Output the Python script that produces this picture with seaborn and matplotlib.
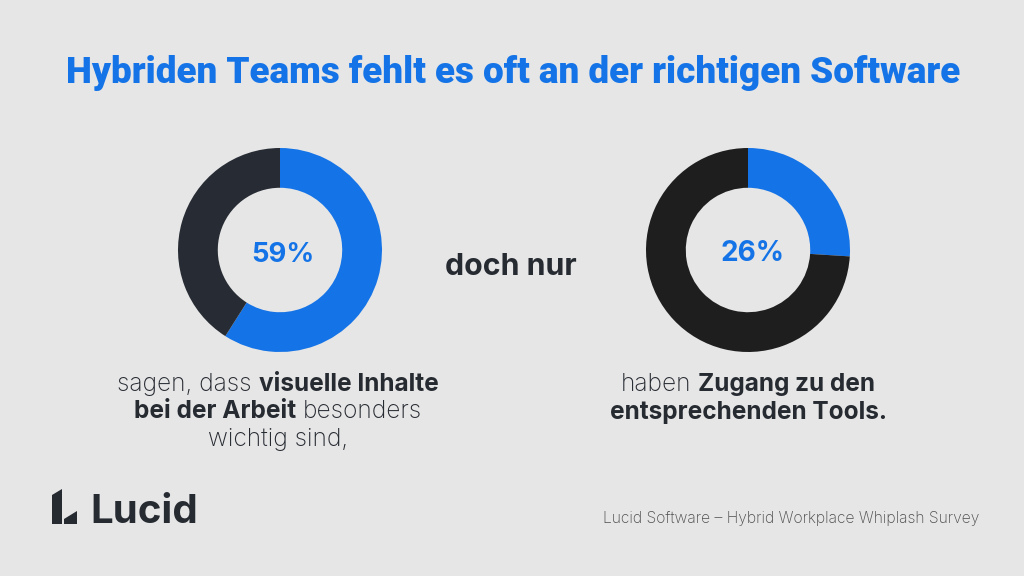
import matplotlib
matplotlib.use("Agg")
import matplotlib.pyplot as plt
from matplotlib.patches import Polygon
import seaborn as sns

# ---------------- data ----------------
title = "Hybriden Teams fehlt es oft an der richtigen Software"
left_values = [59, 41]
right_values = [26, 74]
left_label = "59%"
right_label = "26%"
middle_text = "doch nur"
left_desc = [
    [("sagen, dass", "light"), ("visuelle Inhalte", "bold")],
    [("bei der Arbeit", "bold"), ("besonders", "light")],
    [("wichtig sind,", "light")],
]
right_desc = [
    [("haben", "light"), ("Zugang zu den", "bold")],
    [("entsprechenden Tools.", "bold")],
]
brand = "Lucid"
source = "Lucid Software \u2013 Hybrid Workplace Whiplash Survey"

# ---------------- style ----------------
BLUE = "#1473E6"
DARK_L = "#272C34"
DARK_R = "#1E1E1E"
BG = "#E6E6E6"
TEXT = "#262A31"
GRAY = "#4D4D4D"

sns.set_theme(style="white", rc={"figure.facecolor": BG, "axes.facecolor": BG})
plt.rcParams["font.family"] = ["Inter", "DejaVu Sans"]

W, H = 1024, 576
fig = plt.figure(figsize=(W / 100, H / 100), dpi=100)
fig.patch.set_facecolor(BG)


def donut(cx, cy, r, values, colors):
    ax = fig.add_axes([(cx - r) / W, 1 - (cy + r) / H, 2 * r / W, 2 * r / H])
    ax.pie(values, colors=colors, startangle=90, counterclock=False, radius=1,
           wedgeprops=dict(width=0.39, linewidth=0))
    ax.set_xlim(-1, 1)
    ax.set_ylim(-1, 1)
    ax.set_aspect("auto")
    ax.patch.set_visible(False)
    ax.axis("off")
    return ax


donut(280, 250, 102, left_values, [BLUE, DARK_L])
donut(748, 250, 102, right_values, [BLUE, DARK_R])

# overlay axes in pixel coordinates (y down)
ov = fig.add_axes([0, 0, 1, 1])
ov.set_xlim(0, W)
ov.set_ylim(H, 0)
ov.patch.set_visible(False)
ov.axis("off")

fig.canvas.draw()
renderer = fig.canvas.get_renderer()


def width_of(t):
    return t.get_window_extent(renderer).width


def fit_text(x, y, s, target_w, ha="center", family=None, **kw):
    t = ov.text(x, y, s, ha=ha, va="baseline", fontsize=20, **kw)
    if family:
        t.set_family(family)
    w = width_of(t)
    t.set_fontsize(20 * target_w / w)
    return t


def rich_block(cx, y0, dy, lines, size, color):
    for i, segs in enumerate(lines):
        y = y0 + i * dy
        probe = ov.text(0, y, "a a", fontsize=size, fontweight="light")
        probe2 = ov.text(0, y, "aa", fontsize=size, fontweight="light")
        sp = width_of(probe) - width_of(probe2)
        probe.remove(); probe2.remove()
        texts, widths = [], []
        for s, wt in segs:
            t = ov.text(0, y, s, fontsize=size, fontweight=wt, color=color,
                        ha="left", va="baseline")
            texts.append(t)
            widths.append(width_of(t))
        total = sum(widths) + sp * (len(segs) - 1)
        x = cx - total / 2
        for t, w in zip(texts, widths):
            t.set_x(x)
            x += w + sp


# title
fit_text(513, 83, title, 897, family=["Roboto", "DejaVu Sans"], fontweight="black", color=BLUE)

# percentages
fit_text(283, 262, left_label, 63, fontweight="bold", color=BLUE)
fit_text(752, 261, right_label, 64, fontweight="bold", color=BLUE)

# middle text
fit_text(511, 275, middle_text, 132, fontweight="bold", color=TEXT)

# descriptions
rich_block(278, 391, 27.5, left_desc, 17.6, TEXT)
rich_block(748, 391, 27.5, right_desc, 17.6, TEXT)

# logo
ov.add_patch(Polygon([(52, 495), (62, 489), (62, 524), (52, 524)], closed=True,
                     facecolor=TEXT, edgecolor="none"))
ov.add_patch(Polygon([(64, 519), (77, 511), (77, 524), (64, 524)], closed=True,
                     facecolor=TEXT, edgecolor="none"))
fit_text(90, 523, brand, 108, ha="left", fontweight="bold", color=TEXT)

# source
fit_text(791, 523, source, 377, fontweight="light", color=GRAY)

fig.savefig("out.png", dpi=100, facecolor=BG)
